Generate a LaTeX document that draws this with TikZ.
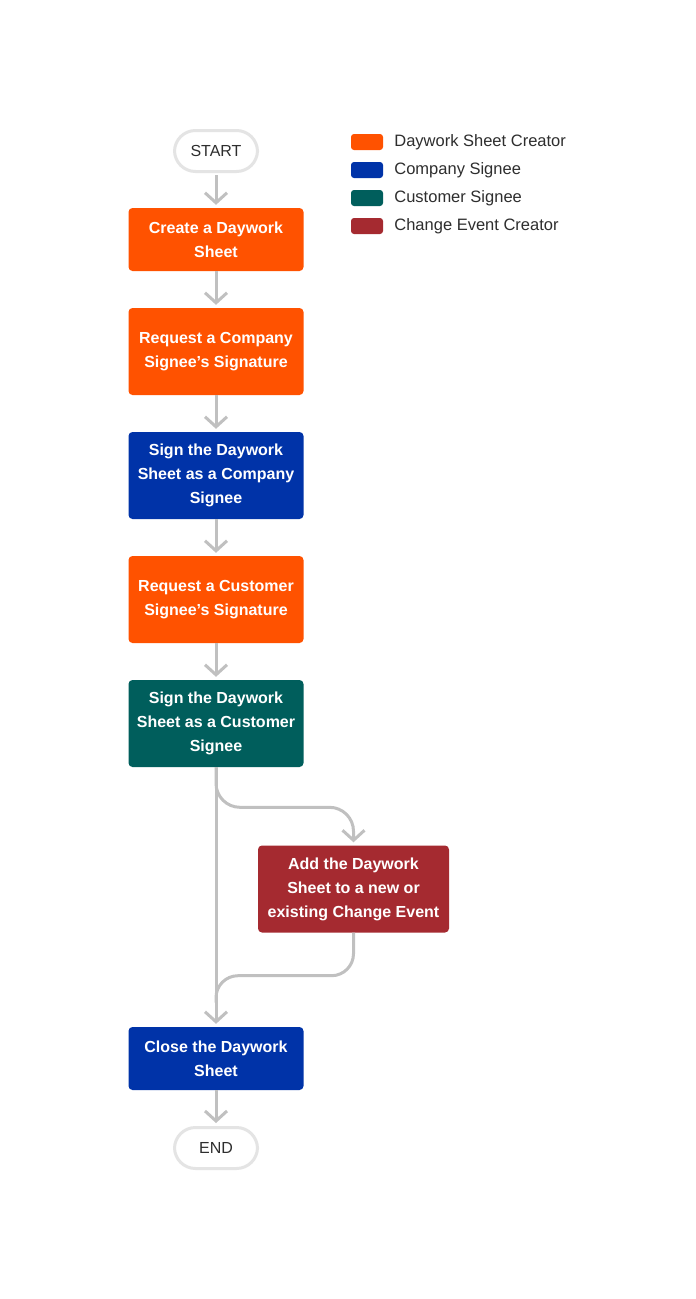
\documentclass[tikz,border=0pt]{standalone}
\usepackage{fontspec}
\setmainfont{Liberation Sans}
\usetikzlibrary{arrows.meta,positioning}
\definecolor{creator}{HTML}{FF5200}
\definecolor{company}{HTML}{0033A8}
\definecolor{customer}{HTML}{005E5C}
\definecolor{changeev}{HTML}{A52A30}
\definecolor{flowgray}{HTML}{C0C0C0}
\definecolor{pillgray}{HTML}{E4E4E4}
\definecolor{txtgray}{HTML}{2E2E2E}
\begin{document}
\begin{tikzpicture}[x=1pt,y=-1pt,
  stepbox/.style={rectangle,rounded corners=4pt,minimum width=175pt,text=white,
    align=center,inner sep=0pt,font=\fontsize{16}{24}\selectfont\bfseries},
  pill/.style={rectangle,rounded corners=21pt,draw=pillgray,line width=3pt,fill=white,
    minimum width=83pt,minimum height=41pt,text=txtgray,font=\fontsize{16}{20}\selectfont},
  link/.style={draw=flowgray,line width=3pt},
  flow/.style={link,-{Straight Barb[length=10pt,width=22pt,line width=3pt]}},
  swatch/.style={rectangle,rounded corners=3pt,minimum width=32pt,minimum height=16pt,inner sep=0pt},
  legtext/.style={text=txtgray,font=\fontsize{16.5}{20}\selectfont,anchor=west,inner sep=0pt}]
\useasboundingbox[fill=white] (0,0) rectangle (696,1299);

\node[pill] (start) at (216,151) {START};
\node[stepbox,fill=creator,minimum height=63pt] (create) at (216,239.5) {Create a Daywork\\Sheet};
\node[stepbox,fill=creator,minimum height=87pt] (reqcomp) at (216,351.5) {Request a Company\\Signee's Signature};
\node[stepbox,fill=company,minimum height=87pt] (signcomp) at (216,475.5) {Sign the Daywork\\Sheet as a Company\\Signee};
\node[stepbox,fill=creator,minimum height=87pt] (reqcust) at (216,599.5) {Request a Customer\\Signee's Signature};
\node[stepbox,fill=customer,minimum height=87pt] (signcust) at (216,723.5) {Sign the Daywork\\Sheet as a Customer\\Signee};
\node[stepbox,fill=changeev,minimum height=87pt,minimum width=191pt] (addce) at (353.5,889) {Add the Daywork\\Sheet to a new or\\existing Change Event};
\node[stepbox,fill=company,minimum height=63pt] (close) at (216,1058.5) {Close the Daywork\\Sheet};
\node[pill] (end) at (216,1148) {END};

\draw[flow,shorten <=2pt,shorten >=3pt] (start) -- (create);
\draw[flow,shorten >=3pt] (create) -- (reqcomp);
\draw[flow,shorten >=3pt] (reqcomp) -- (signcomp);
\draw[flow,shorten >=3pt] (signcomp) -- (reqcust);
\draw[flow,shorten >=3pt] (reqcust) -- (signcust);
\draw[flow,shorten >=3pt] (signcust) -- (close);
\draw[flow,shorten >=3pt,rounded corners=24pt] (signcust.south) |- ([yshift=38pt]addce.north) -- (addce.north);
\draw[link,rounded corners=22pt] (addce.south) |- ([yshift=-43pt]addce.south -| signcust.south) -- ([yshift=-70pt]addce.south -| signcust.south);
\draw[flow,shorten >=3pt] (close) -- (end);

\node[swatch,fill=creator] (lg1) at (367,142) {};
\node[swatch,fill=company] (lg2) at (367,170) {};
\node[swatch,fill=customer] (lg3) at (367,198) {};
\node[swatch,fill=changeev] (lg4) at (367,226) {};
\node[legtext,right=11pt of lg1] {Daywork Sheet Creator};
\node[legtext,right=11pt of lg2] {Company Signee};
\node[legtext,right=11pt of lg3] {Customer Signee};
\node[legtext,right=11pt of lg4] {Change Event Creator};
\end{tikzpicture}
\end{document}
